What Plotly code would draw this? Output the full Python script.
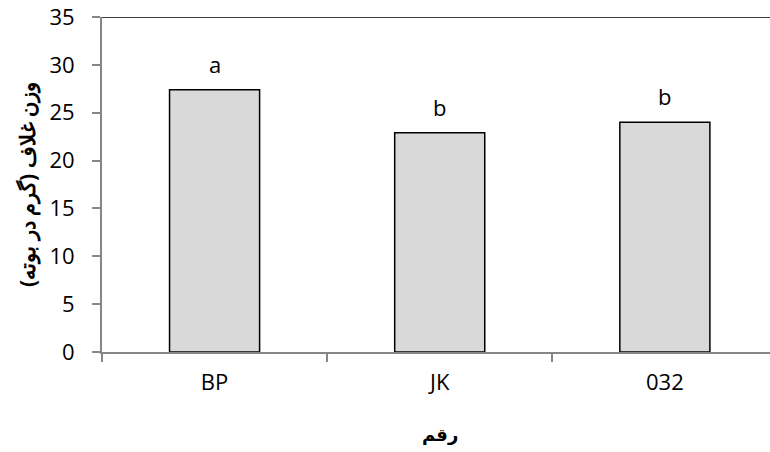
import plotly.graph_objects as go

# Pod weight per cultivar
cultivars = ["BP", "JK", "032"]
pod_weight = [27.4, 22.9, 24.0]
groups = ["a", "b", "b"]

y_ticks = [0, 5, 10, 15, 20, 25, 30, 35]

fig = go.Figure()
fig.add_trace(go.Bar(
    x=cultivars,
    y=pod_weight,
    width=0.4,
    marker=dict(color="#d9d9d9", line=dict(color="#000000", width=1.5)),
    hoverinfo="skip",
))

# Mean-separation letters above each bar (category index positions)
for i, (v, g) in enumerate(zip(pod_weight, groups)):
    fig.add_annotation(
        x=i, y=v, text=g, showarrow=False,
        yanchor="bottom", yshift=9,
        font=dict(family="Open Sans", size=22, color="#000000"),
    )

# X-axis title
fig.add_annotation(
    x=1, y=0, yref="y", yanchor="top", yshift=-70,
    text="<b>رقم</b>", showarrow=False,
    font=dict(family="DejaVu Sans", size=18, color="#000000"),
)

# Top frame line
fig.add_shape(
    type="line", xref="paper", yref="y",
    x0=0, x1=1, y0=35, y1=35,
    line=dict(color="#000000", width=1.5),
)

fig.update_layout(
    width=770, height=452,
    margin=dict(l=102, r=0, t=17, b=100),
    plot_bgcolor="white", paper_bgcolor="white",
    showlegend=False,
    font=dict(family="Open Sans", size=22, color="#000000"),
)

fig.update_xaxes(
    type="category",
    range=[-0.5, 2.467],
    tickson="boundaries",
    ticks="outside", ticklen=8, tickwidth=1.5, tickcolor="#868686",
    showline=True, linecolor="#868686", linewidth=2,
    showgrid=False, zeroline=False,
    ticklabelstandoff=10,
    tickfont=dict(family="Open Sans", size=22, color="#000000"),
)

fig.update_yaxes(
    range=[0, 35],
    tickvals=y_ticks,
    ticks="outside", ticklen=8, tickwidth=1.5, tickcolor="#868686",
    showline=True, linecolor="#868686", linewidth=2,
    showgrid=False, zeroline=False,
    ticklabelstandoff=13,
    tickfont=dict(family="Open Sans", size=22, color="#000000"),
    title=dict(
        text="<b>وزن غلاف (گرم در بوته)</b>",
        font=dict(family="Noto Sans", size=21, color="#000000"),
        standoff=8,
    ),
)

fig.write_html("out.html")
